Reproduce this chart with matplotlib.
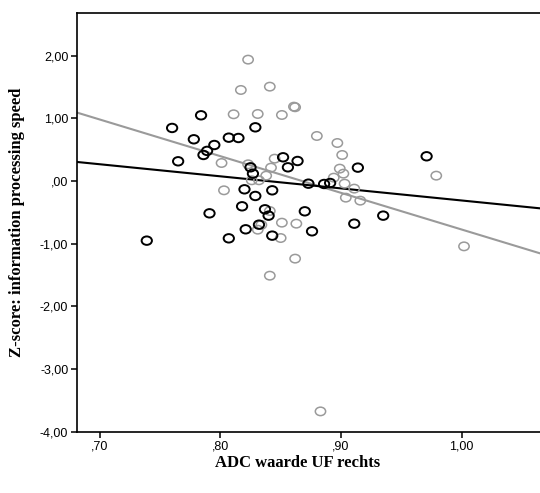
import numpy as np
import matplotlib
matplotlib.use("Agg")
import matplotlib.pyplot as plt
from matplotlib.path import Path

# Data
black_x = [0.739, 0.760, 0.765, 0.778, 0.784, 0.786, 0.791, 0.795, 0.807, 0.807,
           0.815, 0.818, 0.820, 0.821, 0.825, 0.827, 0.829, 0.829, 0.832, 0.837,
           0.840, 0.843, 0.843, 0.852, 0.856, 0.864, 0.870, 0.873, 0.876, 0.886,
           0.891, 0.911, 0.914, 0.935, 0.971, 0.789]
black_y = [-0.952, 0.846, 0.314, 0.665, 1.048, 0.415, -0.516, 0.574, -0.915, 0.691,
           0.686, -0.404, -0.133, -0.771, 0.218, 0.117, -0.239, 0.856, -0.697, -0.452,
           -0.553, -0.149, -0.872, 0.378, 0.218, 0.319, -0.484, -0.043, -0.803, -0.048,
           -0.032, -0.681, 0.213, -0.553, 0.394, 0.480]

gray_x = [0.823, 0.817, 0.841, 0.811, 0.831, 0.851, 0.861, 0.862, 0.880, 0.897,
          0.901, 0.801, 0.823, 0.845, 0.842, 0.838, 0.826, 0.832, 0.803, 0.899,
          0.902, 0.894, 0.903, 0.911, 0.904, 0.916, 0.979, 1.002, 0.841, 0.851,
          0.863, 0.831, 0.850, 0.862, 0.841, 0.883, 0.834]
gray_y = [1.936, 1.452, 1.505, 1.064, 1.069, 1.053, 1.186, 1.176, 0.718, 0.606,
          0.415, 0.287, 0.266, 0.356, 0.213, 0.085, 0.011, 0.011, -0.149, 0.197,
          0.117, 0.053, -0.043, -0.122, -0.266, -0.314, 0.085, -1.043, -0.479, -0.665,
          -0.681, -0.777, -0.910, -1.239, -1.511, -3.676, -0.700]

# Fit lines (intercept, slope)
black_fit = [1.616, -1.927]
gray_fit = [5.076, -5.85]

x_ticks = [0.70, 0.80, 0.90, 1.00]
x_ticklabels = [",70", ",80", ",90", "1,00"]
y_ticks = [-4, -3, -2, -1, 0, 1, 2]
y_ticklabels = ["-4,00", "-3,00", "-2,00", "-1,00", ",00", "1,00", "2,00"]

fig = plt.figure(figsize=(5.40, 4.93), dpi=100)
ax = fig.add_axes([77.3 / 540, 61.3 / 493, 1 - 77.3 / 540, 418.7 / 493])

xmin, xmax = 0.6814, 1.065
ymin, ymax = -4.0, 2.68

# elliptical marker (slightly wider than tall)
circ = Path.unit_circle()
ell = Path(circ.vertices * np.array([1.0, 0.82]), circ.codes)

ax.scatter(gray_x, gray_y, marker=ell, s=55, facecolors="none",
           edgecolors="#9a9a9a", linewidths=1.1, zorder=3)
ax.scatter(black_x, black_y, marker=ell, s=55, facecolors="none",
           edgecolors="black", linewidths=1.4, zorder=4)

xs = np.array([xmin, xmax])
ax.plot(xs, gray_fit[0] + gray_fit[1] * xs, color="#9a9a9a", lw=1.5, zorder=2)
ax.plot(xs, black_fit[0] + black_fit[1] * xs, color="black", lw=1.5, zorder=2)

ax.set_xlim(xmin, xmax)
ax.set_ylim(ymin, ymax)
ax.set_xticks(x_ticks)
ax.set_xticklabels(x_ticklabels)
ax.set_yticks(y_ticks)
ax.set_yticklabels(y_ticklabels)

for s in ["left", "bottom", "top"]:
    ax.spines[s].set_linewidth(1.2)
ax.spines["right"].set_visible(False)

ax.tick_params(axis="both", direction="out", length=4.5, width=1.1,
               labelsize=9, pad=2, colors="black")
for lab in ax.get_xticklabels() + ax.get_yticklabels():
    lab.set_family(["Liberation Sans", "DejaVu Sans"])

ax.set_xlabel("ADC waarde UF rechts", family=["Liberation Serif", "DejaVu Serif"],
              fontweight="bold", fontsize=12)
ax.set_ylabel("Z-score: information processing speed",
              family=["Liberation Serif", "DejaVu Serif"],
              fontweight="bold", fontsize=12)
ax.xaxis.set_label_coords(0.477, -0.056)
ax.yaxis.set_label_coords(-0.113, 0.50)

fig.savefig("out.png", dpi=100)
